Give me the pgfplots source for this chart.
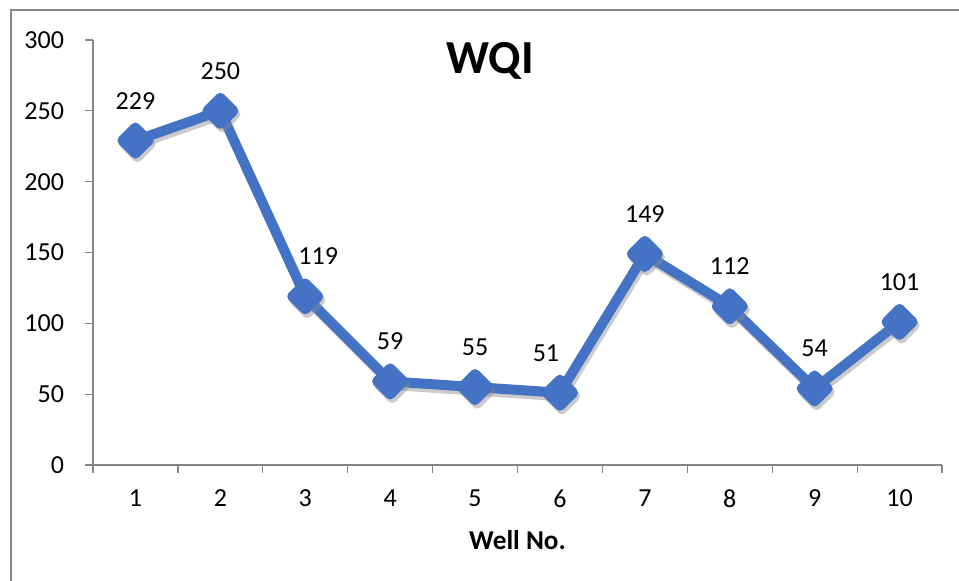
\documentclass[border=0pt]{standalone}
\usepackage{pgfplots}
\pgfplotsset{compat=1.18}
\usepackage{fontspec}
\setmainfont{Carlito}
\definecolor{xlblue}{RGB}{68,114,196}
\definecolor{axgray}{RGB}{134,134,134}
\pgfplotstableread{
x y dx
1 229 0
2 250 0
3 119 6.5
4 59 0
5 55 0
6 51 -7
7 149 0
8 112 0
9 54 0
10 101 0
}\wqidata
\begin{document}
\begin{tikzpicture}
\useasboundingbox (0,0) rectangle (479.5pt,290pt);
\fill[white] (0,0) rectangle (479.5pt,290pt);
\draw[axgray, line width=0.7pt] (5.5pt,-10pt) -- (5.5pt,285pt) -- (500pt,285pt);
\begin{axis}[
  at={(46.5pt,57.5pt)}, anchor=south west,
  scale only axis, width=424.5pt, height=212.5pt,
  xmin=0.5, xmax=10.5, ymin=0, ymax=300,
  axis x line*=bottom, axis y line*=left,
  axis line style={axgray, line width=0.6pt},
  tick align=outside, major tick length=4pt,
  tick style={axgray, line width=0.6pt},
  ytick={0,50,...,300},
  xtick={0.5,1.5,...,10.5}, xticklabels={},
  extra x ticks={1,2,3,4,5,6,7,8,9,10},
  extra x tick labels={1,2,3,4,5,6,7,8,9,10},
  extra x tick style={major tick length=0pt, tick style={draw=none}},
  /pgf/number format/assume math mode=true,
  ticklabel style={font=\fontsize{13}{15}\selectfont, black},
  xticklabel style={yshift=-9pt},
  yticklabel style={xshift=-7pt},
  clip=false,
]
\addplot[black!45, opacity=0.45, line width=5pt, line join=round,
  mark=square*, mark size=4.6pt, mark options={rotate=45, solid},
  xshift=1pt, yshift=-1.8pt, forget plot]
  table[x=x, y=y] {\wqidata};
\addplot[xlblue, line width=5pt, line join=round,
  mark=square*, mark size=4.6pt, mark options={rotate=45, solid, fill=xlblue},
  visualization depends on={\thisrow{dx} \as \dx},
  nodes near coords,
  every node near coord/.append style={anchor=center, yshift=20pt, xshift=\dx pt, black, font=\fontsize{13}{15}\selectfont},
  ]
  table[x=x, y=y] {\wqidata};
\end{axis}
\node[font=\bfseries\fontsize{23.7}{28}\selectfont, inner sep=0pt] at (245pt,259.5pt) {WQI};
\node[font=\bfseries\fontsize{13.6}{16}\selectfont, inner sep=0pt] at (258.75pt,20pt) {Well No.};
\end{tikzpicture}
\end{document}
